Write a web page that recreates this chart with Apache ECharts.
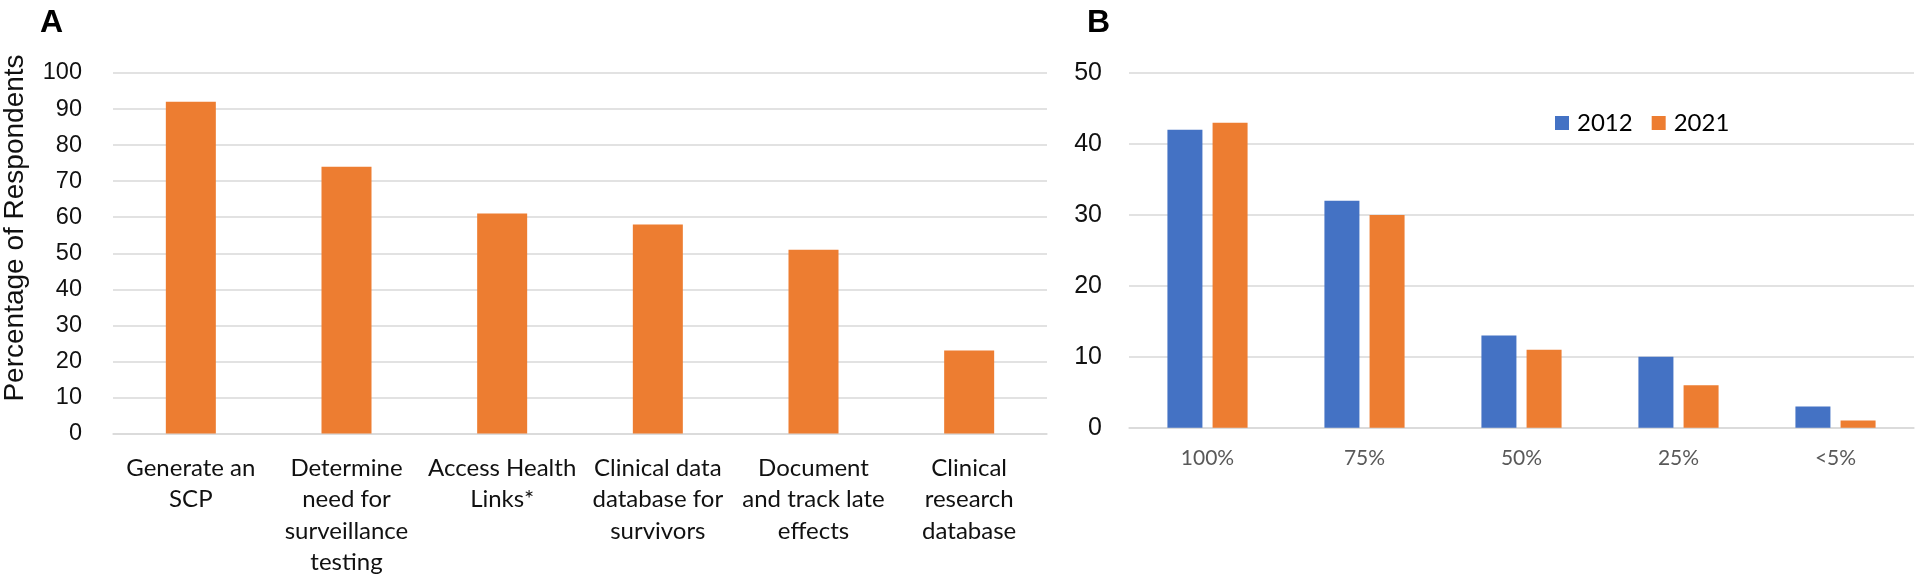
<!DOCTYPE html>
<html>
<head>
<meta charset="utf-8">
<script src="https://cdn.jsdelivr.net/npm/echarts@6/dist/echarts.min.js"></script>
<style>
  html, body { margin: 0; padding: 0; background: #ffffff; }
  #chart { width: 1920px; height: 582px; }
</style>
</head>
<body>
<div id="chart"></div>
<script>
// ---- Data ----
const categoriesA = [
  'Generate an\nSCP',
  'Determine\nneed for\nsurveillance\ntesting',
  'Access Health\nLinks*',
  'Clinical data\ndatabase for\nsurvivors',
  'Document\nand track late\neffects',
  'Clinical\nresearch\ndatabase'
];
const valuesA = [92, 74, 61, 58, 51, 23];
const yTicksA = { min: 0, max: 100, interval: 10 };

const categoriesB = ['100%', '75%', '50%', '25%', '<5%'];
const values2012 = [42, 32, 13, 10, 3];
const values2021 = [43, 30, 11, 6, 1];
const yTicksB = { min: 0, max: 50, interval: 10 };

const seriesNamesB = ['2012', '2021'];
const panelTitles = ['A', 'B'];
const yNameA = 'Percentage of Respondents';

// ---- Styles ----
const ORANGE = '#ED7D31';
const BLUE = '#4472C4';
const GRID_COLOR = '#d9d9d9';
const NUM_FONT = '"Liberation Sans", Arial, sans-serif';
const CAT_FONT = 'Lato, "Open Sans", sans-serif';

const chart = echarts.init(document.getElementById('chart'));

const option = {
  backgroundColor: '#ffffff',
  animation: false,
  grid: [
    { left: 113, top: 73, width: 934, height: 360.5, outerBoundsMode: 'none', containLabel: false },
    { left: 1129, top: 73, width: 785, height: 354.7, outerBoundsMode: 'none', containLabel: false }
  ],
  legend: {
    data: seriesNamesB,
    left: 1555,
    top: 111,
    padding: 0,
    itemWidth: 14,
    itemHeight: 14,
    itemGap: 19,
    icon: 'rect',
    textStyle: { fontFamily: CAT_FONT, fontSize: 24, color: '#000', padding: [0, 0, 0, 3] }
  },
  xAxis: [
    {
      type: 'category', gridIndex: 0, data: categoriesA,
      axisTick: { show: false },
      axisLine: { show: true, lineStyle: { color: GRID_COLOR, width: 1.5 } },
      axisLabel: { interval: 0, margin: 19, fontFamily: CAT_FONT, fontSize: 24, lineHeight: 31.5, color: '#111', align: 'center' }
    },
    {
      type: 'category', gridIndex: 1, data: categoriesB,
      axisTick: { show: false },
      axisLine: { show: true, lineStyle: { color: GRID_COLOR, width: 1.5 } },
      axisLabel: { interval: 0, margin: 19, fontFamily: CAT_FONT, fontSize: 21, lineHeight: 24, color: '#595959' }
    }
  ],
  yAxis: [
    {
      type: 'value', gridIndex: 0, min: yTicksA.min, max: yTicksA.max, interval: yTicksA.interval,
      axisLine: { show: false }, axisTick: { show: false },
      splitLine: { lineStyle: { color: GRID_COLOR, width: 1.5 } },
      axisLabel: { margin: 31, fontFamily: NUM_FONT, fontSize: 23.5, color: '#111' }
    },
    {
      type: 'value', gridIndex: 1, min: yTicksB.min, max: yTicksB.max, interval: yTicksB.interval,
      axisLine: { show: false }, axisTick: { show: false },
      splitLine: { lineStyle: { color: GRID_COLOR, width: 1.5 } },
      axisLabel: { margin: 27, fontFamily: NUM_FONT, fontSize: 25, color: '#111' }
    }
  ],
  series: [
    {
      type: 'bar', xAxisIndex: 0, yAxisIndex: 0, data: valuesA,
      barWidth: 50, itemStyle: { color: ORANGE }
    },
    {
      name: seriesNamesB[0], type: 'bar', xAxisIndex: 1, yAxisIndex: 1, data: values2012,
      barWidth: 35, barGap: '29%', itemStyle: { color: BLUE }
    },
    {
      name: seriesNamesB[1], type: 'bar', xAxisIndex: 1, yAxisIndex: 1, data: values2021,
      barWidth: 35, barGap: '29%', itemStyle: { color: ORANGE }
    }
  ],
  graphic: [
    {
      type: 'text', left: 40, top: 7,
      style: { text: panelTitles[0], font: 'bold 32px "Liberation Sans", Arial, sans-serif', fill: '#000' }
    },
    {
      type: 'text', left: 1087, top: 7,
      style: { text: panelTitles[1], font: 'bold 32px "Liberation Sans", Arial, sans-serif', fill: '#000' }
    },
    {
      type: 'text', x: 15, y: 228, rotation: Math.PI / 2,
      style: {
        text: yNameA, font: '28px "Liberation Sans", Arial, sans-serif', fill: '#111',
        textAlign: 'center', textVerticalAlign: 'middle'
      }
    }
  ]
};

chart.setOption(option);
</script>
</body>
</html>
